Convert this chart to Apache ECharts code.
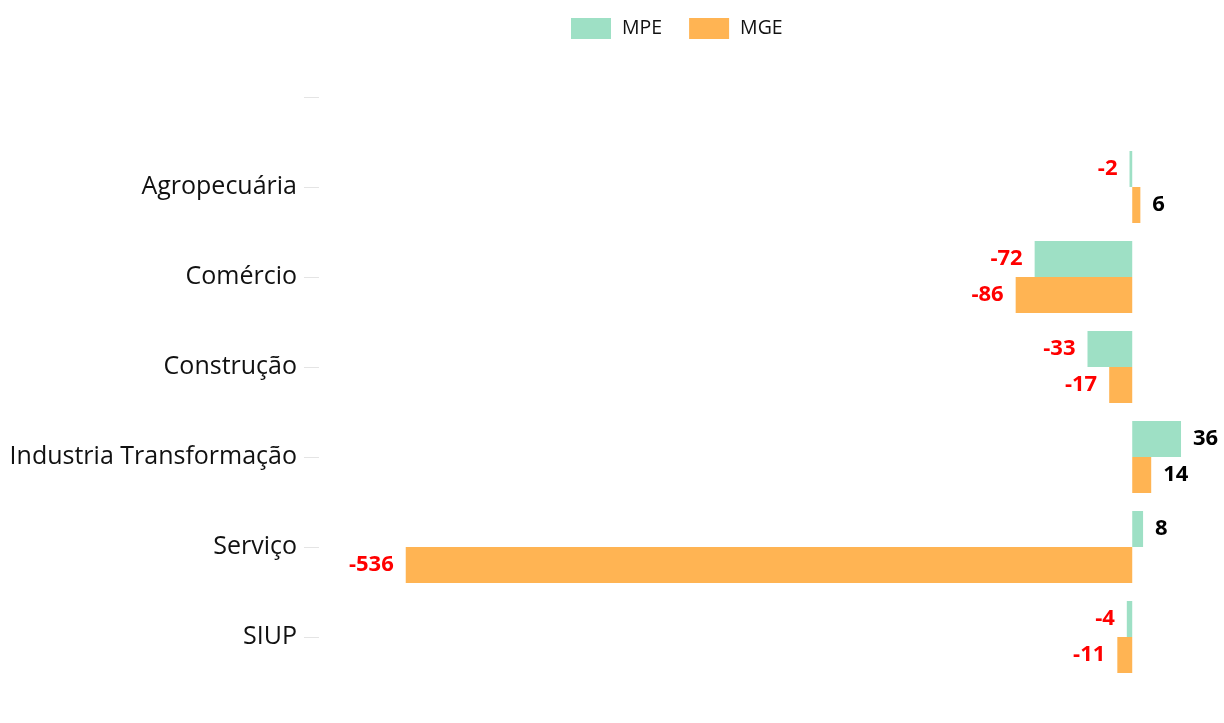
<!DOCTYPE html>
<html>
<head>
<meta charset="utf-8">
<script src="https://cdn.jsdelivr.net/npm/echarts@6/dist/echarts.min.js"></script>
<style>
html,body{margin:0;padding:0;background:#fff;}
#chart{width:1224px;height:723px;}
</style>
</head>
<body>
<div id="chart"></div>
<script>
const categories = ['', 'Agropecuária', 'Comércio', 'Construção', 'Industria Transformação', 'Serviço', 'SIUP'];
const seriesNames = ['MPE', 'MGE'];
const mpeValues = [null, -2, -72, -33, 36, 8, -4];
const mgeValues = [null, 6, -86, -17, 14, -536, -11];
const colors = ['#9ee0c5', '#ffb453'];

function toItems(vals) {
  return vals.map(v => v === null ? null : {
    value: v,
    label: { position: v < 0 ? 'left' : 'right', color: v < 0 ? '#ff0000' : '#000000' }
  });
}

const chart = echarts.init(document.getElementById('chart'));
chart.setOption({
  animation: false,
  textStyle: { fontFamily: 'Open Sans' },
  legend: {
    top: 13, left: 566,
    icon: 'rect',
    itemWidth: 40, itemHeight: 21, itemGap: 27,
    textStyle: { fontSize: 19.5, color: '#111', fontFamily: 'Open Sans', padding: [0, 0, 0, 6] },
    data: seriesNames
  },
  grid: { left: 319, right: 24, top: 52, bottom: 41, containLabel: false },
  xAxis: { type: 'value', min: -600, max: 50, show: false },
  yAxis: {
    type: 'category', inverse: true, data: categories,
    axisLine: { show: false, onZero: false },
    axisTick: { show: true, alignWithLabel: true, length: 15, lineStyle: { color: '#e4e4e4' } },
    axisLabel: { fontSize: 25, color: '#111', margin: 22, fontFamily: 'Open Sans' },
    splitLine: { show: false }
  },
  series: [
    { name: seriesNames[0], type: 'bar', data: toItems(mpeValues), barWidth: 36, barGap: '0%',
      itemStyle: { color: colors[0] },
      label: { show: true, fontSize: 22, fontWeight: 'bold', distance: 12, fontFamily: 'Open Sans' } },
    { name: seriesNames[1], type: 'bar', data: toItems(mgeValues), barWidth: 36, barGap: '0%',
      itemStyle: { color: colors[1] },
      label: { show: true, fontSize: 22, fontWeight: 'bold', distance: 12, fontFamily: 'Open Sans' } }
  ]
});
</script>
</body>
</html>
